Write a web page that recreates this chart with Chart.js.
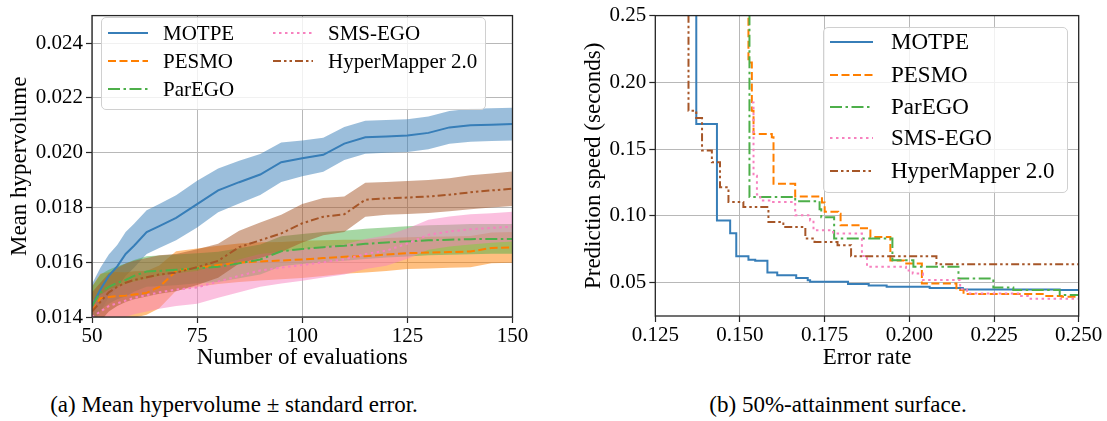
<!DOCTYPE html>
<html>
<head>
<meta charset="utf-8">
<title>MOTPE vs baselines</title>
<script src="https://cdn.jsdelivr.net/npm/chart.js@4.4.1/dist/chart.umd.min.js"></script>
<style>
  body { margin: 0; background: #fff; width: 1107px; height: 421px; overflow: hidden; position: relative;
         font-family: "Liberation Serif", "Times New Roman", serif; color: #000; }
  canvas { position: absolute; top: 0; }
  #hvChart { left: 0; }
  #easChart { left: 555px; }
  .legend { position: absolute; background: rgba(255, 255, 255, 0.8); border: 1px solid #d0d0d0;
            border-radius: 5px; box-sizing: border-box; }
  .legend .item { position: absolute; height: 24px; display: flex; align-items: center; white-space: nowrap; }
  .legend svg { display: block; }
  .caption { position: absolute; top: 393px; font-size: 23px; line-height: 23px; white-space: nowrap;
             transform: translateX(-50%); }
</style>
</head>
<body>
<canvas id="hvChart" width="550" height="380"></canvas>
<canvas id="easChart" width="552" height="380"></canvas>
<div id="hvLegend" class="legend" style="left:101px; top:17px; width:385px; height:93px;"></div>
<div id="easLegend" class="legend" style="left:823px; top:27px; width:245px; height:166px;"></div>
<div class="caption" style="left:234px;">(a) Mean hypervolume ± standard error.</div>
<div class="caption" style="left:838px;">(b) 50%-attainment surface.</div>

<script>
// --- algorithms (shared by both panels) ---
const algoNames = ['MOTPE', 'PESMO', 'ParEGO', 'SMS-EGO', 'HyperMapper 2.0'];
const algoColors = ['#377eb8', '#ff7f00', '#4daf4a', '#f781bf', '#a65628'];
const algoDashes = [[], [8, 3.5], [12, 3.5, 2.5, 3.5], [2.5, 3.5], [8, 3, 2.5, 3, 2.5, 3]];

// --- (a) mean hypervolume and standard error per evaluation count ---
const hvEvals = [50, 52, 54, 56, 58, 60, 63, 66, 70, 75, 80, 85, 90, 95, 100, 105, 110, 115, 120, 125, 130, 135, 140, 145, 150];

const motpeMean = [0.01440, 0.01500, 0.01550, 0.01585, 0.01630, 0.01660, 0.01710, 0.01732, 0.01762, 0.01812, 0.01862, 0.01892, 0.01920,
                   0.01965, 0.01979, 0.01992, 0.02033, 0.02056, 0.02059, 0.02062, 0.02072, 0.02092, 0.02100, 0.02102, 0.02104];
const motpeSe = [0.00080, 0.00080, 0.00078, 0.00078, 0.00080, 0.00080, 0.00080, 0.00080, 0.00082, 0.00085, 0.00080, 0.00078, 0.00075,
                 0.00072, 0.00065, 0.00062, 0.00060, 0.00060, 0.00060, 0.00060, 0.00060, 0.00060, 0.00060, 0.00060, 0.00060];

const pesmoMean = [0.01420, 0.01468, 0.01473, 0.01476, 0.01478, 0.01482, 0.01488, 0.01510, 0.01568, 0.01580, 0.01590, 0.01598, 0.01603,
                   0.01606, 0.01610, 0.01615, 0.01620, 0.01622, 0.01628, 0.01633, 0.01635, 0.01637, 0.01639, 0.01652, 0.01654];
const pesmoSe = [0.00090, 0.00090, 0.00090, 0.00088, 0.00085, 0.00085, 0.00080, 0.00078, 0.00072, 0.00070, 0.00070, 0.00070, 0.00070,
                 0.00068, 0.00068, 0.00065, 0.00062, 0.00060, 0.00060, 0.00058, 0.00058, 0.00057, 0.00057, 0.00056, 0.00056];

const paregoMean = [0.01440, 0.01490, 0.01510, 0.01525, 0.01535, 0.01550, 0.01566, 0.01568, 0.01572, 0.01578, 0.01583, 0.01596, 0.01610,
                    0.01640, 0.01648, 0.01655, 0.01660, 0.01667, 0.01672, 0.01676, 0.01680, 0.01682, 0.01684, 0.01685, 0.01685];
const paregoSe = [0.00070, 0.00065, 0.00062, 0.00060, 0.00060, 0.00058, 0.00056, 0.00056, 0.00056, 0.00055, 0.00055, 0.00055, 0.00055,
                  0.00055, 0.00055, 0.00055, 0.00055, 0.00055, 0.00055, 0.00055, 0.00055, 0.00055, 0.00055, 0.00054, 0.00054];

const smsMean = [0.01400, 0.01420, 0.01440, 0.01450, 0.01460, 0.01470, 0.01480, 0.01490, 0.01500, 0.01508, 0.01530, 0.01550, 0.01570,
                 0.01580, 0.01590, 0.01600, 0.01610, 0.01630, 0.01642, 0.01668, 0.01700, 0.01712, 0.01720, 0.01725, 0.01730];
const smsSe = [0.00060, 0.00060, 0.00060, 0.00060, 0.00060, 0.00060, 0.00060, 0.00060, 0.00060, 0.00060, 0.00060, 0.00060, 0.00060,
               0.00058, 0.00058, 0.00056, 0.00055, 0.00055, 0.00055, 0.00055, 0.00055, 0.00055, 0.00055, 0.00054, 0.00054];

const hmMean = [0.01420, 0.01455, 0.01490, 0.01510, 0.01525, 0.01535, 0.01545, 0.01555, 0.01562, 0.01582, 0.01605, 0.01655, 0.01680,
                0.01705, 0.01742, 0.01766, 0.01775, 0.01828, 0.01833, 0.01836, 0.01840, 0.01846, 0.01855, 0.01862, 0.01868];
const hmSe = [0.00070, 0.00070, 0.00070, 0.00070, 0.00070, 0.00070, 0.00070, 0.00070, 0.00068, 0.00065, 0.00062, 0.00060, 0.00065,
              0.00068, 0.00070, 0.00068, 0.00065, 0.00062, 0.00060, 0.00060, 0.00060, 0.00060, 0.00062, 0.00062, 0.00063];

const hvXTicks = [50, 75, 100, 125, 150];
const hvYTicks = [0.014, 0.016, 0.018, 0.020, 0.022, 0.024];

// --- (b) 50%-attainment surfaces: error rate where each step drops, and the new speed level ---
const motpeErr = [0.1371, 0.1371, 0.1432, 0.1471, 0.1489, 0.1525, 0.1545, 0.1581, 0.1610, 0.1666, 0.1700, 0.1707, 0.1819, 0.1880,
                  0.1933, 0.2060, 0.2158, 0.2444, 0.2500];
const motpeSpeed = [0.300, 0.1688, 0.0966, 0.0870, 0.0698, 0.0672, 0.0663, 0.0575, 0.0556, 0.0535, 0.0518, 0.0506, 0.0489, 0.0478,
                    0.0469, 0.0460, 0.0449, 0.0444, 0.0444];

const pesmoErr = [0.1525, 0.1525, 0.1535, 0.1540, 0.1594, 0.1599, 0.1663, 0.1742, 0.1750, 0.1790, 0.1797, 0.1850, 0.1885, 0.1944,
                  0.1985, 0.2037, 0.2139, 0.2160, 0.2400, 0.2450, 0.2500];
const pesmoSpeed = [0.300, 0.2148, 0.1787, 0.1613, 0.1588, 0.1240, 0.1145, 0.1100, 0.1030, 0.1016, 0.0929, 0.0907, 0.0842, 0.0665,
                    0.0643, 0.0494, 0.0444, 0.0414, 0.0400, 0.0394, 0.0394];

const paregoErr = [0.1528, 0.1528, 0.1663, 0.1735, 0.1740, 0.1778, 0.1950, 0.2012, 0.2145, 0.2248, 0.2307, 0.2444, 0.2500];
const paregoSpeed = [0.300, 0.1141, 0.1110, 0.1050, 0.0990, 0.0830, 0.0668, 0.0618, 0.0530, 0.0464, 0.0444, 0.0407, 0.0407];

const smsErr = [0.1535, 0.1540, 0.1550, 0.1560, 0.1590, 0.1663, 0.1707, 0.1717, 0.1775, 0.1860, 0.1875, 0.1990, 0.2010, 0.2040,
                0.2150, 0.2170, 0.2330, 0.2350, 0.2500];
const smsSpeed = [0.1850, 0.1300, 0.1160, 0.1116, 0.1103, 0.1004, 0.0966, 0.0892, 0.0867, 0.0700, 0.0618, 0.0590, 0.0568, 0.0519,
                  0.0450, 0.0419, 0.0400, 0.0380, 0.0380];

const hmErr = [0.1348, 0.1348, 0.1371, 0.1388, 0.1417, 0.1441, 0.1466, 0.1510, 0.1584, 0.1628, 0.1693, 0.1720, 0.1788, 0.1828,
               0.2080, 0.2500];
const hmSpeed = [0.300, 0.1787, 0.1733, 0.1489, 0.1401, 0.1215, 0.1103, 0.1066, 0.0954, 0.0916, 0.0830, 0.0805, 0.0780, 0.0698,
                 0.0638, 0.0638];

const easXTicks = [0.125, 0.150, 0.175, 0.200, 0.225, 0.250];
const easYTicks = [0.05, 0.10, 0.15, 0.20, 0.25];

// --- helpers ---
function rgba(hex, a) {
  const n = parseInt(hex.slice(1), 16);
  return `rgba(${(n >> 16) & 255}, ${(n >> 8) & 255}, ${n & 255}, ${a})`;
}

function zipPoints(xs, ys) {
  return xs.map((x, i) => ({ x, y: ys[i] }));
}

Chart.defaults.font.family = '"Liberation Serif", "Times New Roman", serif';
Chart.defaults.color = '#000';

// matplotlib-style box round the plot area
const framePlugin = {
  id: 'frame',
  afterDraw(chart) {
    const { ctx, chartArea: a } = chart;
    ctx.save();
    ctx.strokeStyle = '#262626';
    ctx.lineWidth = 1.3;
    ctx.strokeRect(a.left, a.top, a.right - a.left, a.bottom - a.top);
    ctx.restore();
  }
};

function axis({ min, max, ticks, fmt, title, titlePad, size, isY }) {
  return {
    type: 'linear',
    min,
    max,
    afterBuildTicks: s => { s.ticks = ticks.map(v => ({ value: v })); },
    afterFit: s => { if (isY) s.width = size; else s.height = size; },
    grid: { color: '#b8b8b8', lineWidth: 1, tickColor: '#262626', tickLength: 6, tickWidth: 1.2 },
    border: { display: false },
    ticks: {
      font: { size: 21 },
      color: '#000',
      padding: isY ? 3 : 1,
      autoSkip: false,
      maxRotation: 0,
      minRotation: 0,
      callback: v => fmt(v)
    },
    title: { display: true, text: title, font: { size: 23 }, color: '#000', padding: titlePad }
  };
}

const baseOptions = {
  responsive: false,
  animation: false,
  events: [],
  plugins: {
    legend: { display: false },
    tooltip: { enabled: false },
    filler: { drawTime: 'beforeDatasetsDraw' }
  }
};

// --- (a) hypervolume chart ---
const hvSeries = [
  [motpeMean, motpeSe], [pesmoMean, pesmoSe], [paregoMean, paregoSe], [smsMean, smsSe], [hmMean, hmSe]
];
const hvDatasets = [];
hvSeries.forEach(([mean, se], i) => {
  const lowerIdx = hvDatasets.length;
  hvDatasets.push({
    data: zipPoints(hvEvals, mean.map((m, k) => m - se[k])),
    borderColor: 'transparent', borderWidth: 0, pointRadius: 0, fill: false, order: 4 - i
  });
  hvDatasets.push({
    data: zipPoints(hvEvals, mean.map((m, k) => m + se[k])),
    borderColor: 'transparent', borderWidth: 0, pointRadius: 0,
    fill: lowerIdx, backgroundColor: rgba(algoColors[i], 0.5), order: 4 - i
  });
});
hvSeries.forEach(([mean], i) => {
  hvDatasets.push({
    label: algoNames[i],
    data: zipPoints(hvEvals, mean),
    borderColor: algoColors[i], borderWidth: 2, borderDash: algoDashes[i],
    pointRadius: 0, fill: false, order: 4 - i
  });
});

new Chart(document.getElementById('hvChart'), {
  type: 'line',
  data: { datasets: hvDatasets },
  options: {
    ...baseOptions,
    layout: { padding: { top: 7.7, right: 37.5, bottom: 0, left: 0 } },
    scales: {
      x: axis({ min: 50, max: 150, ticks: hvXTicks, fmt: v => String(v), title: 'Number of evaluations',
                titlePad: { top: 0, bottom: 8 }, size: 63, isY: false }),
      y: axis({ min: 0.014, max: 0.025, ticks: hvYTicks, fmt: v => v.toFixed(3), title: 'Mean hypervolume',
                titlePad: { top: 6, bottom: 0 }, size: 92, isY: true })
    }
  },
  plugins: [framePlugin]
});

// --- (b) attainment surface chart ---
// 'before' steps run along the old level first, then drop at the new error rate
const easSeries = [
  [motpeErr, motpeSpeed], [pesmoErr, pesmoSpeed], [paregoErr, paregoSpeed], [smsErr, smsSpeed], [hmErr, hmSpeed]
];
new Chart(document.getElementById('easChart'), {
  type: 'line',
  data: {
    datasets: easSeries.map(([err, speed], i) => ({
      label: algoNames[i],
      data: zipPoints(err, speed),
      stepped: 'before',
      borderColor: algoColors[i], borderWidth: 2, borderDash: algoDashes[i],
      pointRadius: 0, fill: false, order: 4 - i
    }))
  },
  options: {
    ...baseOptions,
    layout: { padding: { top: 15.3, right: 28.3, bottom: 0, left: 0 } },
    scales: {
      x: axis({ min: 0.125, max: 0.25, ticks: easXTicks, fmt: v => v.toFixed(3), title: 'Error rate',
                titlePad: { top: 0, bottom: 8 }, size: 64, isY: false }),
      y: axis({ min: 0.025, max: 0.25, ticks: easYTicks, fmt: v => v.toFixed(2), title: 'Prediction speed (seconds)',
                titlePad: { top: 25, bottom: 0 }, size: 100.3, isY: true })
    }
  },
  plugins: [framePlugin]
});

// --- legends ---
function buildLegend(el, slots, fontSize, sampleW, gap) {
  algoNames.forEach((name, i) => {
    const item = document.createElement('div');
    item.className = 'item';
    item.style.left = slots[i][0] + 'px';
    item.style.top = (slots[i][1] - 12) + 'px';
    item.style.fontSize = fontSize + 'px';
    const dash = algoDashes[i].length ? algoDashes[i].join(' ') : 'none';
    item.innerHTML =
      `<svg width="${sampleW}" height="6"><line x1="0" y1="3" x2="${sampleW}" y2="3" stroke="${algoColors[i]}" ` +
      `stroke-width="2" stroke-dasharray="${dash}"/></svg>` +
      `<span style="margin-left:${gap}px">${name}</span>`;
    el.appendChild(item);
  });
}

buildLegend(document.getElementById('hvLegend'), [[6, 15], [6, 43], [6, 71], [171, 15], [171, 43]], 21, 40, 15);
buildLegend(document.getElementById('easLegend'), [[6, 14], [6, 47], [6, 79], [6, 110], [6, 143]], 23, 43, 18);
</script>
</body>
</html>
